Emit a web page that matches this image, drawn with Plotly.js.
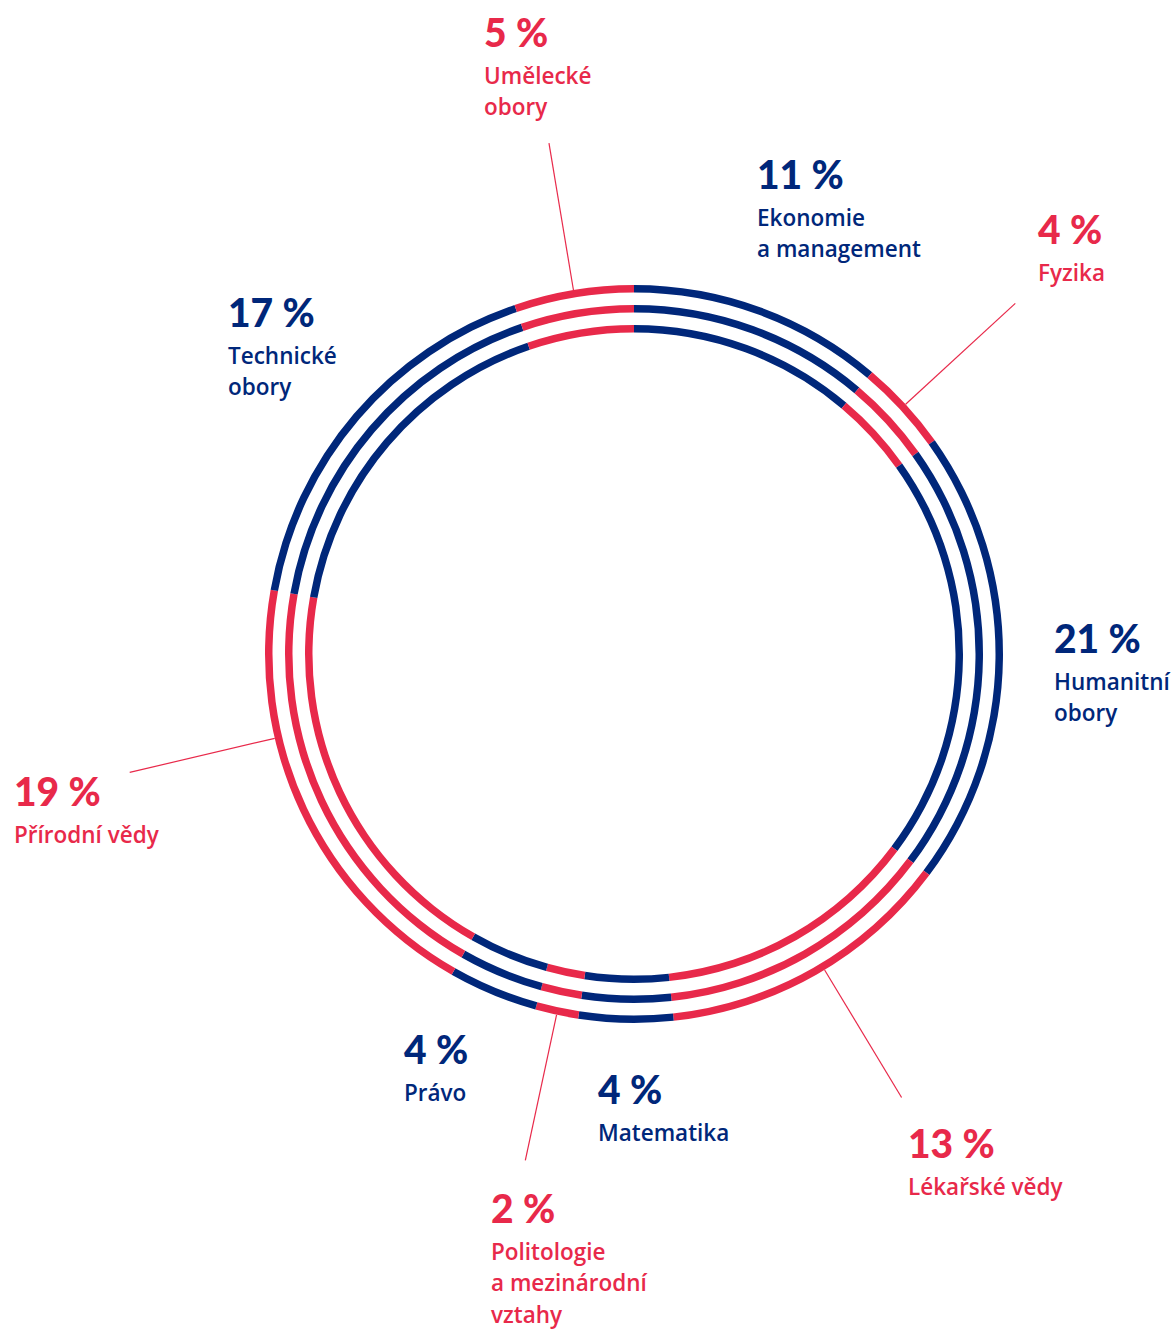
<!DOCTYPE html>
<html>
<head>
<meta charset="utf-8">
<script src="https://cdn.plot.ly/plotly-3.0.1.min.js"></script>
<style>
  html, body { margin: 0; padding: 0; background: #ffffff; }
  #chart { width: 1175px; height: 1329px; }
</style>
</head>
<body>
<div id="chart"></div>
<script>
// ---------- data (clockwise from 12 o'clock) ----------
const categories = [
  "Ekonomie a management", "Fyzika", "Humanitní obory", "Lékařské vědy",
  "Matematika", "Politologie a mezinárodní vztahy", "Právo",
  "Přírodní vědy", "Technické obory", "Umělecké obory"
];
const shares = [11.17, 4.0, 20.06, 13.06, 4.14, 1.89, 3.92, 19.56, 16.97, 5.25];
const percentLabels = ["11 %", "4 %", "21 %", "13 %", "4 %", "2 %", "4 %", "19 %", "17 %", "5 %"];
const nameLines = [
  ["Ekonomie", "a management"],
  ["Fyzika"],
  ["Humanitní", "obory"],
  ["Lékařské vědy"],
  ["Matematika"],
  ["Politologie", "a mezinárodní", "vztahy"],
  ["Právo"],
  ["Přírodní vědy"],
  ["Technické", "obory"],
  ["Umělecké", "obory"]
];
const colorGroup = [0, 1, 0, 1, 0, 1, 0, 1, 0, 1]; // 0 = navy, 1 = red

// ---------- styles / layout ----------
const W = 1175, H = 1329;
const NAVY = "#00277A", RED = "#E8294A";
const palette = [NAVY, RED];
const center = {x: 634, y: 654};
const rings = [369, 349, 329];   // outer radius of each ring (px)
const ringWidth = 7.5;

// label anchor: left x, y of percent-number centre
const labelPos = [
  [757, 174], [1038, 229], [1054, 638], [908, 1143], [598, 1089],
  [491, 1208], [404, 1049], [14, 791], [228, 312], [484, 32]
];
// leader lines: slice index, fraction along the slice
const leaders = [[9, 0.5], [1, 0.5], [3, 0.47], [5, 0.5], [7, 0.67]];
const leaderR = [369, 518];

const px = x => x / W;
const py = y => 1 - y / H;

const colors = colorGroup.map(g => palette[g]);

const traces = rings.map(r => ({
  type: "pie",
  labels: categories,
  values: shares,
  sort: false,
  direction: "clockwise",
  rotation: 0,
  hole: (r - ringWidth) / r,
  textinfo: "none",
  hoverinfo: "skip",
  marker: {colors: colors, line: {width: 0}},
  domain: {
    x: [px(center.x - r), px(center.x + r)],
    y: [py(center.y + r), py(center.y - r)]
  },
  showlegend: false
}));

const annotations = [];
const numFont = "Lato, 'Open Sans', sans-serif";
const nameFont = "'Open Sans', Lato, sans-serif";
categories.forEach((c, i) => {
  const col = palette[colorGroup[i]];
  const [lx, ly] = labelPos[i];
  annotations.push({
    xref: "paper", yref: "paper", x: px(lx - 2), y: py(ly),
    xanchor: "left", yanchor: "middle", showarrow: false,
    text: percentLabels[i],
    font: {family: numFont, size: 39, color: col, weight: 900}
  });
  nameLines[i].forEach((line, k) => {
    annotations.push({
      xref: "paper", yref: "paper", x: px(lx - 2), y: py(ly + 43 + 31.5 * k),
      xanchor: "left", yanchor: "middle", showarrow: false,
      text: line,
      font: {family: nameFont, size: 22.5, color: col, weight: 600}
    });
  });
});

const total = shares.reduce((a, b) => a + b, 0);
const cum = [];
shares.reduce((acc, v) => { cum.push(acc); return acc + v; }, 0);
const shapes = leaders.map(([i, f]) => {
  const ang = (cum[i] + shares[i] * f) / total * 2 * Math.PI;
  const sx = Math.sin(ang), sy = -Math.cos(ang);
  return {
    type: "line", xref: "paper", yref: "paper",
    x0: px(center.x + leaderR[0] * sx), y0: py(center.y + leaderR[0] * sy),
    x1: px(center.x + leaderR[1] * sx), y1: py(center.y + leaderR[1] * sy),
    line: {color: RED, width: 1.2}
  };
});

const layout = {
  width: W, height: H,
  margin: {l: 0, r: 0, t: 0, b: 0},
  paper_bgcolor: "#ffffff",
  plot_bgcolor: "#ffffff",
  showlegend: false,
  annotations: annotations,
  shapes: shapes
};

Plotly.newPlot("chart", traces, layout, {staticPlot: true, displayModeBar: false});
</script>
</body>
</html>
